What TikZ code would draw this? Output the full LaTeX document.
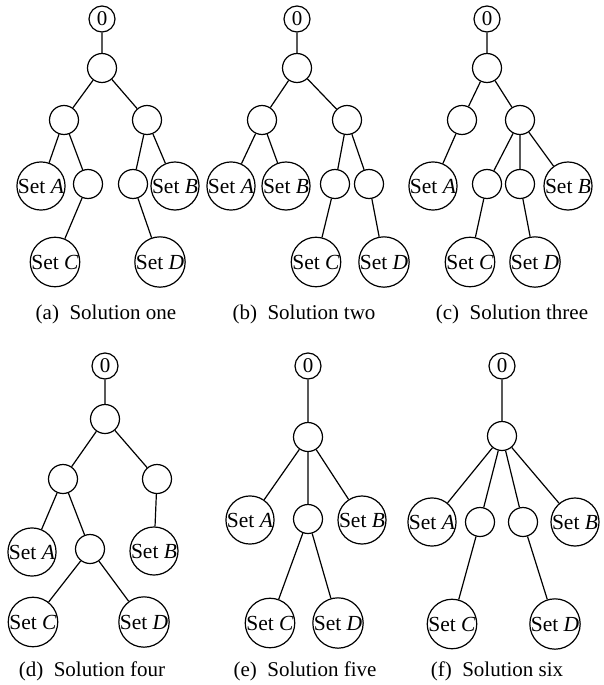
\documentclass[tikz,border=0pt]{standalone}
\usepackage{fontspec}
\setmainfont{Liberation Serif}
\begin{document}
\begin{tikzpicture}[x=1pt,y=-1pt,line width=1.2pt,
  every node/.style={font=\fontsize{21.5}{25}\selectfont},
  zero/.style={circle,draw,minimum size=26pt,inner sep=0pt,font=\fontsize{21}{25}\selectfont},
  emp/.style={circle,draw,minimum size=29pt,inner sep=0pt},
  setn/.style={circle,draw,minimum size=47pt,inner sep=0pt},
  captxt/.style={inner sep=0pt,font=\fontsize{21}{25}\selectfont}]
\useasboundingbox (0,0) rectangle (603,685);
% (a)
\node[zero] (a0) at (102,19) {0};
\node[emp] (a1) at (102,68) {};
\node[emp] (aL) at (64,120) {};
\node[emp] (aR) at (147,120) {};
\node[setn] (aA) at (41,186) {Set \textit{A}};
\node[emp] (as1) at (88,184) {};
\node[emp] (as2) at (133,184) {};
\node[setn] (aB) at (175,186) {Set \textit{B}};
\node[setn] (aC) at (55,262) {Set \textit{C}};
\node[setn] (aD) at (160,262) {Set \textit{D}};
\draw (a0)--(a1) (a1)--(aL) (a1)--(aR) (aL)--(aA) (aL)--(as1) (aR)--(as2) (aR)--(aB) (as1)--(aC) (as2)--(aD);
\node[captxt] (acap) at (106,314) {(a)\enspace Solution one};
% (b)
\node[zero] (b0) at (297,19) {0};
\node[emp] (b1) at (297,68) {};
\node[emp] (bL) at (262,120) {};
\node[emp] (bR) at (347,120) {};
\node[setn] (bA) at (231,186) {Set \textit{A}};
\node[setn] (bB) at (286,186) {Set \textit{B}};
\node[emp] (bs1) at (335,184) {};
\node[emp] (bs2) at (369,184) {};
\node[setn] (bC) at (316,262) {Set \textit{C}};
\node[setn] (bD) at (384,262) {Set \textit{D}};
\draw (b0)--(b1) (b1)--(bL) (b1)--(bR) (bL)--(bA) (bL)--(bB) (bR)--(bs1) (bR)--(bs2) (bs1)--(bC) (bs2)--(bD);
\node[captxt] (bcap) at (304,314) {(b)\enspace Solution two};
% (c)
\node[zero] (c0) at (487,19) {0};
\node[emp] (c1) at (487,68) {};
\node[emp] (cL) at (462,120) {};
\node[emp] (cR) at (520,120) {};
\node[setn] (cA) at (433,186) {Set \textit{A}};
\node[emp] (cs1) at (487,184) {};
\node[emp] (cs2) at (520,184) {};
\node[setn] (cB) at (568,186) {Set \textit{B}};
\node[setn] (cC) at (470,262) {Set \textit{C}};
\node[setn] (cD) at (535,262) {Set \textit{D}};
\draw (c0)--(c1) (c1)--(cL) (c1)--(cR) (cL)--(cA) (cR)--(cs1) (cR)--(cs2) (cR)--(cB) (cs1)--(cC) (cs2)--(cD);
\node[captxt] (ccap) at (512,314) {(c)\enspace Solution three};
% (d)
\node[zero] (d0) at (105,366) {0};
\node[emp] (d1) at (105,419) {};
\node[emp] (dL) at (63,479) {};
\node[emp] (dR) at (157,479) {};
\node[setn] (dA) at (32,552) {Set \textit{A}};
\node[emp] (ds1) at (90,549) {};
\node[setn] (dB) at (154,551) {Set \textit{B}};
\node[setn] (dC) at (33,622) {Set \textit{C}};
\node[setn] (dD) at (144,622) {Set \textit{D}};
\draw (d0)--(d1) (d1)--(dL) (d1)--(dR) (dL)--(dA) (dL)--(ds1) (dR)--(dB) (ds1)--(dC) (ds1)--(dD);
\node[captxt] (dcap) at (92,671) {(d)\enspace Solution four};
% (e)
\node[zero] (e0) at (308,366) {0};
\node[emp] (e1) at (308,437) {};
\node[setn] (eA) at (250,520) {Set \textit{A}};
\node[emp] (es1) at (308,519) {};
\node[setn] (eB) at (362,520) {Set \textit{B}};
\node[setn] (eC) at (270,623) {Set \textit{C}};
\node[setn] (eD) at (338,623) {Set \textit{D}};
\draw (e0)--(e1) (e1)--(eA) (e1)--(es1) (e1)--(eB) (es1)--(eC) (es1)--(eD);
\node[captxt] (ecap) at (305,671) {(e)\enspace Solution five};
% (f)
\node[zero] (f0) at (502,366) {0};
\node[emp] (f1) at (502,436) {};
\node[setn] (fA) at (432,522) {Set \textit{A}};
\node[emp] (fs1) at (480,522) {};
\node[emp] (fs2) at (523,522) {};
\node[setn] (fB) at (575,522) {Set \textit{B}};
\node[setn] (fC) at (452,624) {Set \textit{C}};
\node[setn] (fD) at (555,624) {Set \textit{D}};
\draw (f0)--(f1) (f1)--(fA) (f1)--(fs1) (f1)--(fs2) (f1)--(fB) (fs1)--(fC) (fs2)--(fD);
\node[captxt] (fcap) at (497,671) {(f)\enspace Solution six};
\end{tikzpicture}
\end{document}
